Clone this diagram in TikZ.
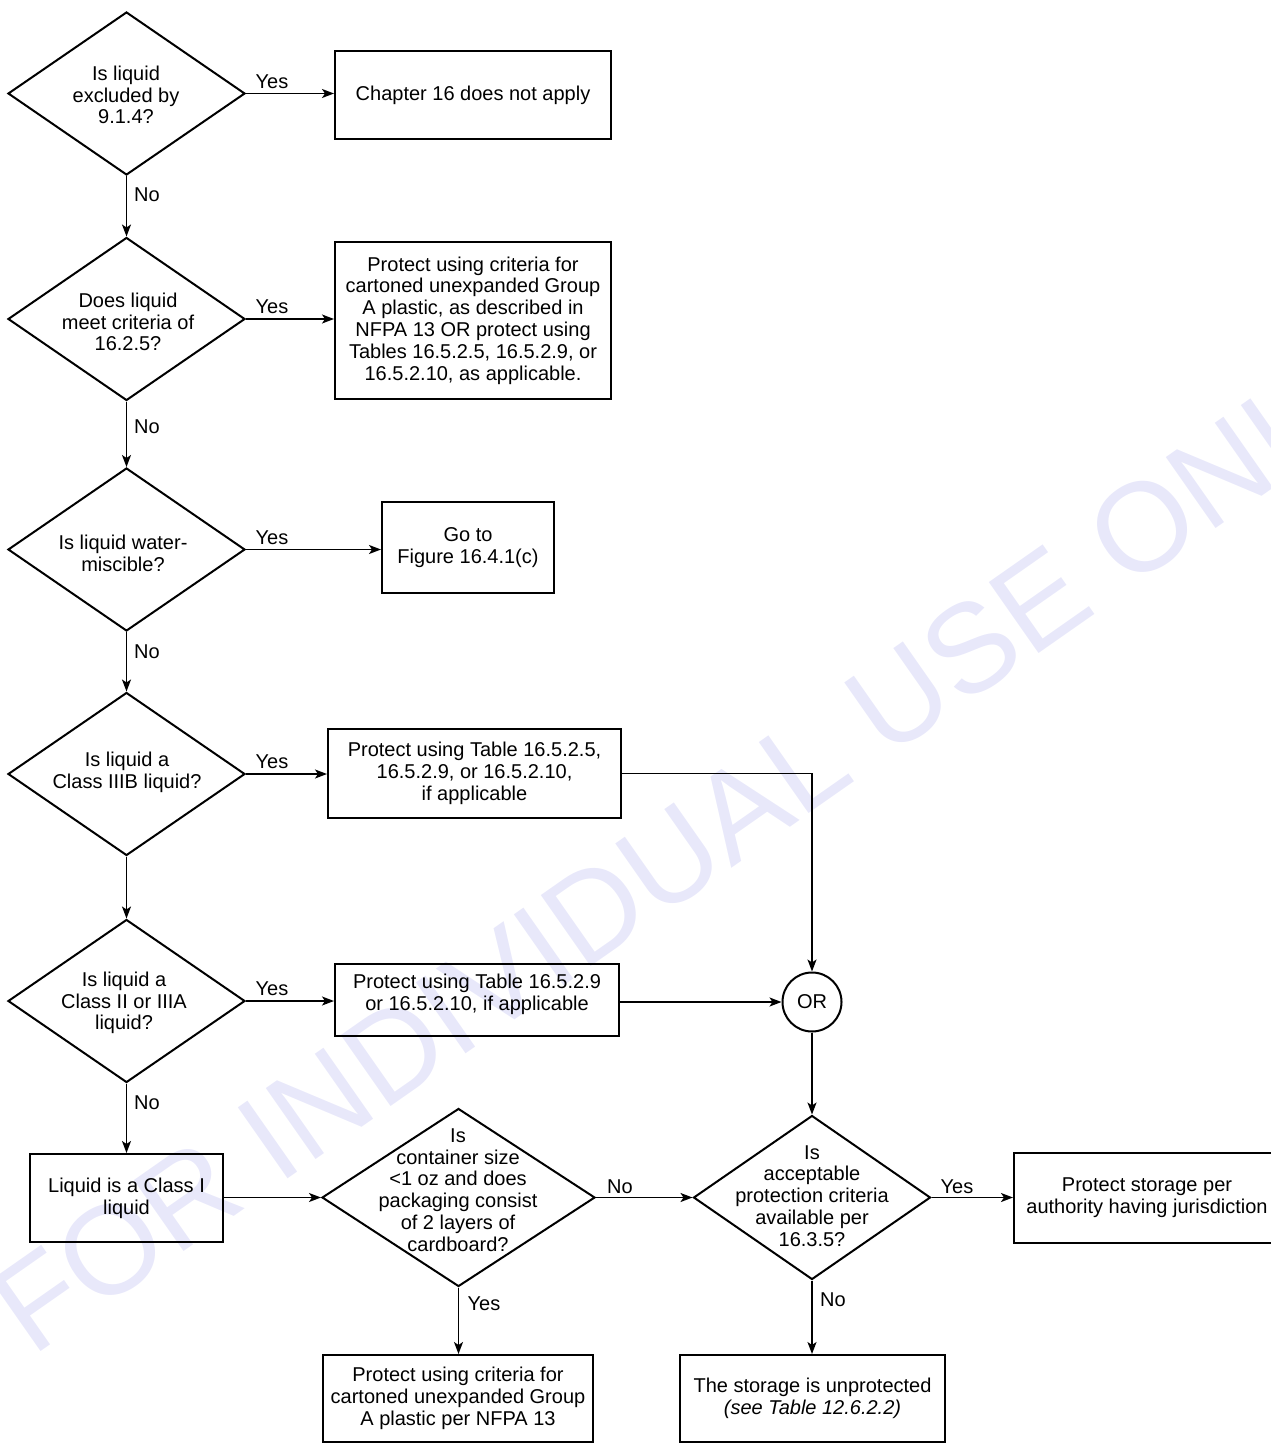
\documentclass[tikz,border=0pt]{standalone}
\usepackage{fontspec}
\setmainfont{Liberation Sans}
\usetikzlibrary{shapes.geometric,arrows.meta}
\definecolor{wm}{RGB}{232,232,250}
\begin{document}
\begin{tikzpicture}[x=0.5pt,y=-0.5pt,
  dia/.style={draw, diamond, line width=1pt, inner sep=0pt, minimum width=118.5pt, minimum height=81.5pt},
  box/.style={draw, rectangle, line width=1pt, inner sep=0pt, align=center, font=\fontsize{10}{10.9}\selectfont},
  txt/.style={align=center, inner sep=0pt, font=\fontsize{10}{10.9}\selectfont},
  lbl/.style={inner sep=0pt, font=\fontsize{10}{12}\selectfont},
  arr/.style={line width=0.8pt, -{Stealth[length=6pt,width=4.5pt,inset=1.5pt]}},
  ln/.style={line width=0.8pt}]
\useasboundingbox (0,0) rectangle (1270,1444);
% watermark
\node[rotate=35, anchor=base west, text=wm, font=\fontsize{63}{63}\selectfont, inner sep=0pt] (wmark) at (32,1358) {FOR INDIVIDUAL USE ONLY};

% decisions
\node[dia] (d1) at (126.5,93.5) {};
\node[txt] (t1) at (126,95) {Is liquid\\excluded by\\9.1.4?};
\node[dia] (d2) at (126.5,319) {};
\node[txt] (t2) at (128,322) {Does liquid\\meet criteria of\\16.2.5?};
\node[dia] (d3) at (126.5,549.5) {};
\node[txt] (t3) at (123,553) {Is liquid water-\\miscible?};
\node[dia] (d4) at (126.5,774) {};
\node[txt] (t4) at (127,772) {Is liquid a\\Class IIIB liquid?};
\node[dia] (d5) at (126.5,1001) {};
\node[txt] (t5) at (124,1003) {Is liquid a\\Class II or IIIA\\liquid?};
\node[dia, minimum width=136.5pt, minimum height=89pt] (d6) at (458.5,1197.5) {};
\node[txt] (t6) at (458,1190) {Is\\container size\\<1 oz and does\\packaging consist\\of 2 layers of\\cardboard?};
\node[dia, minimum height=82pt] (d7) at (812,1197.5) {};
\node[txt] (t7) at (812,1196) {Is\\acceptable\\protection criteria\\available per\\16.3.5?};

% boxes
\node[box, minimum width=138pt, minimum height=44pt] (b1) at (473,95) {Chapter 16 does not apply};
\node[box, minimum width=138pt, minimum height=78.5pt] (b2) at (473,320.5) {Protect using criteria for\\cartoned unexpanded Group\\A plastic, as described in\\NFPA 13 OR protect using\\Tables 16.5.2.5, 16.5.2.9, or\\16.5.2.10, as applicable.};
\node[box, minimum width=86pt, minimum height=45.5pt] (b3) at (468,547.5) {Go to\\Figure 16.4.1(c)};
\node[box, minimum width=146.5pt, minimum height=44.5pt] (b4) at (474.5,773.5) {Protect using Table 16.5.2.5,\\16.5.2.9, or 16.5.2.10,\\if applicable};
\node[box, minimum width=142pt, minimum height=36pt] (b5) at (477,1000) {};
\node[txt] (t8) at (477,994) {Protect using Table 16.5.2.9\\or 16.5.2.10, if applicable};
\node[draw, circle, line width=1pt, minimum size=29.5pt, inner sep=0pt, font=\fontsize{10}{12}\selectfont] (or) at (812,1002) {OR};
\node[box, minimum width=96.5pt, minimum height=44pt] (b6) at (126.5,1198) {Liquid is a Class I\\liquid};
\node[box, minimum width=133pt, minimum height=45pt] (b7) at (1147,1198) {Protect storage per\\authority having jurisdiction};
\node[box, minimum width=135pt, minimum height=43.5pt] (b8) at (458,1398.5) {Protect using criteria for\\cartoned unexpanded Group\\A plastic per NFPA 13};
\node[box, minimum width=132.5pt, minimum height=43.5pt] (b9) at (812.5,1398.5) {The storage is unprotected\\\textit{(see Table 12.6.2.2)}};

% connectors
\draw[arr] (d1.east) -- (d1.east -| b1.west);
\draw[arr] (d1.south) -- (d2.north);
\draw[arr] (d2.east) -- (d2.east -| b2.west);
\draw[arr] (d2.south) -- (d3.north);
\draw[arr] (d3.east) -- (d3.east -| b3.west);
\draw[arr] (d3.south) -- (d4.north);
\draw[arr] (d4.east) -- (d4.east -| b4.west);
\draw[arr] (b4.east) -| (or.north);
\draw[arr] (d4.south) -- (d5.north);
\draw[arr] (d5.east) -- (d5.east -| b5.west);
\draw[arr] (b5.east |- or.west) -- (or.west);
\draw[arr] (d5.south) -- (d5.south |- b6.north);
\draw[arr] (b6.east |- d6.west) -- (d6.west);
\draw[arr] (d6.east) -- (d6.east -| d7.west);
\draw[arr] (d6.south) -- (d6.south |- b8.north);
\draw[arr] (d7.east) -- (d7.east -| b7.west);
\draw[arr] (d7.south) -- (d7.south |- b9.north);
\draw[arr] (or.south) -- (or.south |- d7.north);

% labels
\node[lbl] (y1) at (272,82) {Yes};
\node[lbl] (y2) at (272,307) {Yes};
\node[lbl] (y3) at (272,538) {Yes};
\node[lbl] (y4) at (272,762) {Yes};
\node[lbl] (y5) at (272,989) {Yes};
\node[lbl] (y6) at (484,1304) {Yes};
\node[lbl] (y7) at (957,1187) {Yes};
\node[lbl] (n1) at (147,195) {No};
\node[lbl] (n2) at (147,427) {No};
\node[lbl] (n3) at (147,652) {No};
\node[lbl] (n5) at (147,1103) {No};
\node[lbl] (n6) at (620,1187) {No};
\node[lbl] (n7) at (833,1300) {No};
\end{tikzpicture}
\end{document}
